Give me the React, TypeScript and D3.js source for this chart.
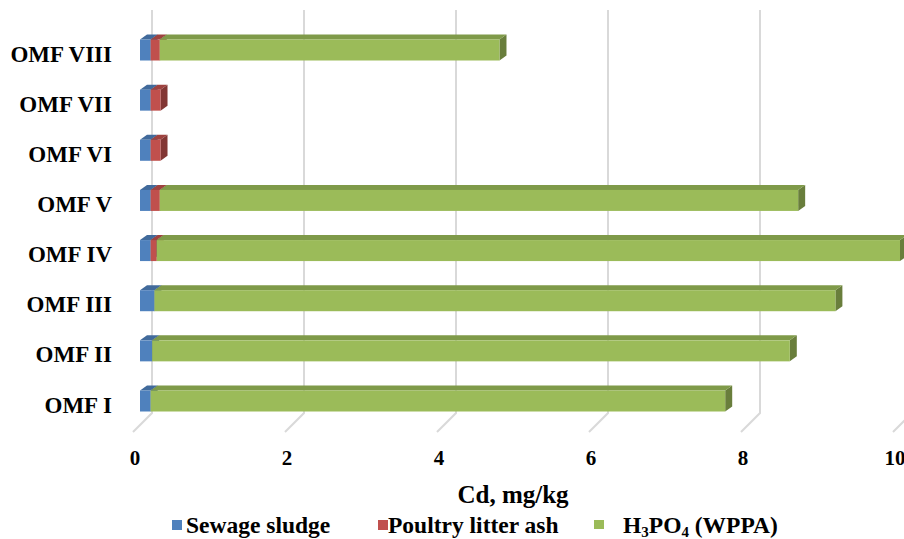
import React from "react";
import * as d3 from "d3";

const categories = ["OMF I", "OMF II", "OMF III", "OMF IV", "OMF V", "OMF VI", "OMF VII", "OMF VIII"];
const sewage = [0.14, 0.16, 0.19, 0.14, 0.14, 0.14, 0.14, 0.14];
const poultry = [0, 0, 0, 0.08, 0.12, 0.13, 0.13, 0.12];
const wppa = [7.56, 8.39, 8.96, 9.78, 8.4, 0, 0, 4.47];
const xTicks = [0, 2, 4, 6, 8, 10];
const seriesNames = ["Sewage sludge", "Poultry litter ash", "H3PO4 (WPPA)"];
const colors = ["#4F81BD", "#C0504D", "#9BBB59"];

const W = 904;
const H = 539;
const FONT = "'Liberation Serif', 'Times New Roman', serif";

export default function App() {
  const x = d3.scaleLinear().domain([0, 10]).range([140, 900]);
  const y = d3.scalePoint<string>().domain([...categories].reverse()).range([50, 401]);
  const barH = 21;
  const bdx = 7;
  const bdy = 5;
  const backOff = 12;
  const frontOff = -7;
  const gridTop = 10;
  const gridBottom = 413;
  const floorFront = 432;

  const rows = categories.map((c, i) => ({ cat: c, s0: sewage[i], s1: poultry[i], s2: wppa[i] }));
  const stack = d3.stack<any>().keys(["s0", "s1", "s2"]);
  const stacked = stack(rows);

  const bars: JSX.Element[] = [];
  rows.forEach((r, i) => {
    const yc = y(r.cat)!;
    const yt = yc - barH / 2;
    const yb = yc + barH / 2;
    stacked.forEach((layer, k) => {
      const [v0, v1] = layer[i];
      if (v1 - v0 <= 0) return;
      const x0 = x(v0);
      const x1 = x(v1);
      const base = d3.color(colors[k])!;
      const top = base.darker(0.55).formatHex();
      const side = base.darker(1.1).formatHex();
      bars.push(
        <g key={`b${i}-${k}`}>
          <polygon
            points={`${x1},${yt} ${x1 + bdx},${yt - bdy} ${x1 + bdx},${yb - bdy} ${x1},${yb}`}
            fill={side}
          />
          <polygon
            points={`${x0},${yt} ${x0 + bdx},${yt - bdy} ${x1 + bdx},${yt - bdy} ${x1},${yt}`}
            fill={top}
          />
          <rect x={x0} y={yt} width={x1 - x0} height={barH} fill={colors[k]} />
        </g>
      );
    });
  });

  return (
    <svg width={W} height={H} style={{ display: "block", position: "absolute", left: 0, top: 0, background: "#fff" }}>
      <rect x={0} y={0} width={W} height={H} fill="#fff" />
      {xTicks.map((t) => (
        <polyline
          key={`g${t}`}
          points={`${x(t) + backOff},${gridTop} ${x(t) + backOff},${gridBottom} ${x(t) + frontOff},${floorFront}`}
          fill="none"
          stroke="#D9D9D9"
          strokeWidth={2}
        />
      ))}
      {bars}
      {categories.map((c) => (
        <text
          key={`c${c}`}
          x={112}
          y={y(c)! + 11.5}
          textAnchor="end"
          fontFamily={FONT}
          fontWeight="bold"
          fontSize={23}
          fill="#000"
        >
          {c}
        </text>
      ))}
      {xTicks.map((t) => (
        <text
          key={`t${t}`}
          x={x(t) + frontOff + 2}
          y={465}
          textAnchor="middle"
          fontFamily={FONT}
          fontWeight="bold"
          fontSize={21}
          fill="#000"
        >
          {t}
        </text>
      ))}
      <text x={513} y={503} textAnchor="middle" fontFamily={FONT} fontWeight="bold" fontSize={25} fill="#000">
        Cd, mg/kg
      </text>
      <g fontFamily={FONT} fontWeight="bold" fontSize={23.5} fill="#000">
        <rect x={172} y={520} width={10} height={10} fill={colors[0]} />
        <text x={186} y={533}>{seriesNames[0]}</text>
        <rect x={378} y={520} width={10} height={10} fill={colors[1]} />
        <text x={388} y={533}>{seriesNames[1]}</text>
        <rect x={594} y={520} width={10} height={9} fill={colors[2]} />
        <text x={623} y={533}>
          H<tspan fontSize={15} dy={4}>3</tspan>
          <tspan dy={-4}>PO</tspan>
          <tspan fontSize={15} dy={4}>4</tspan>
          <tspan dy={-4}> (WPPA)</tspan>
        </text>
      </g>
    </svg>
  );
}
